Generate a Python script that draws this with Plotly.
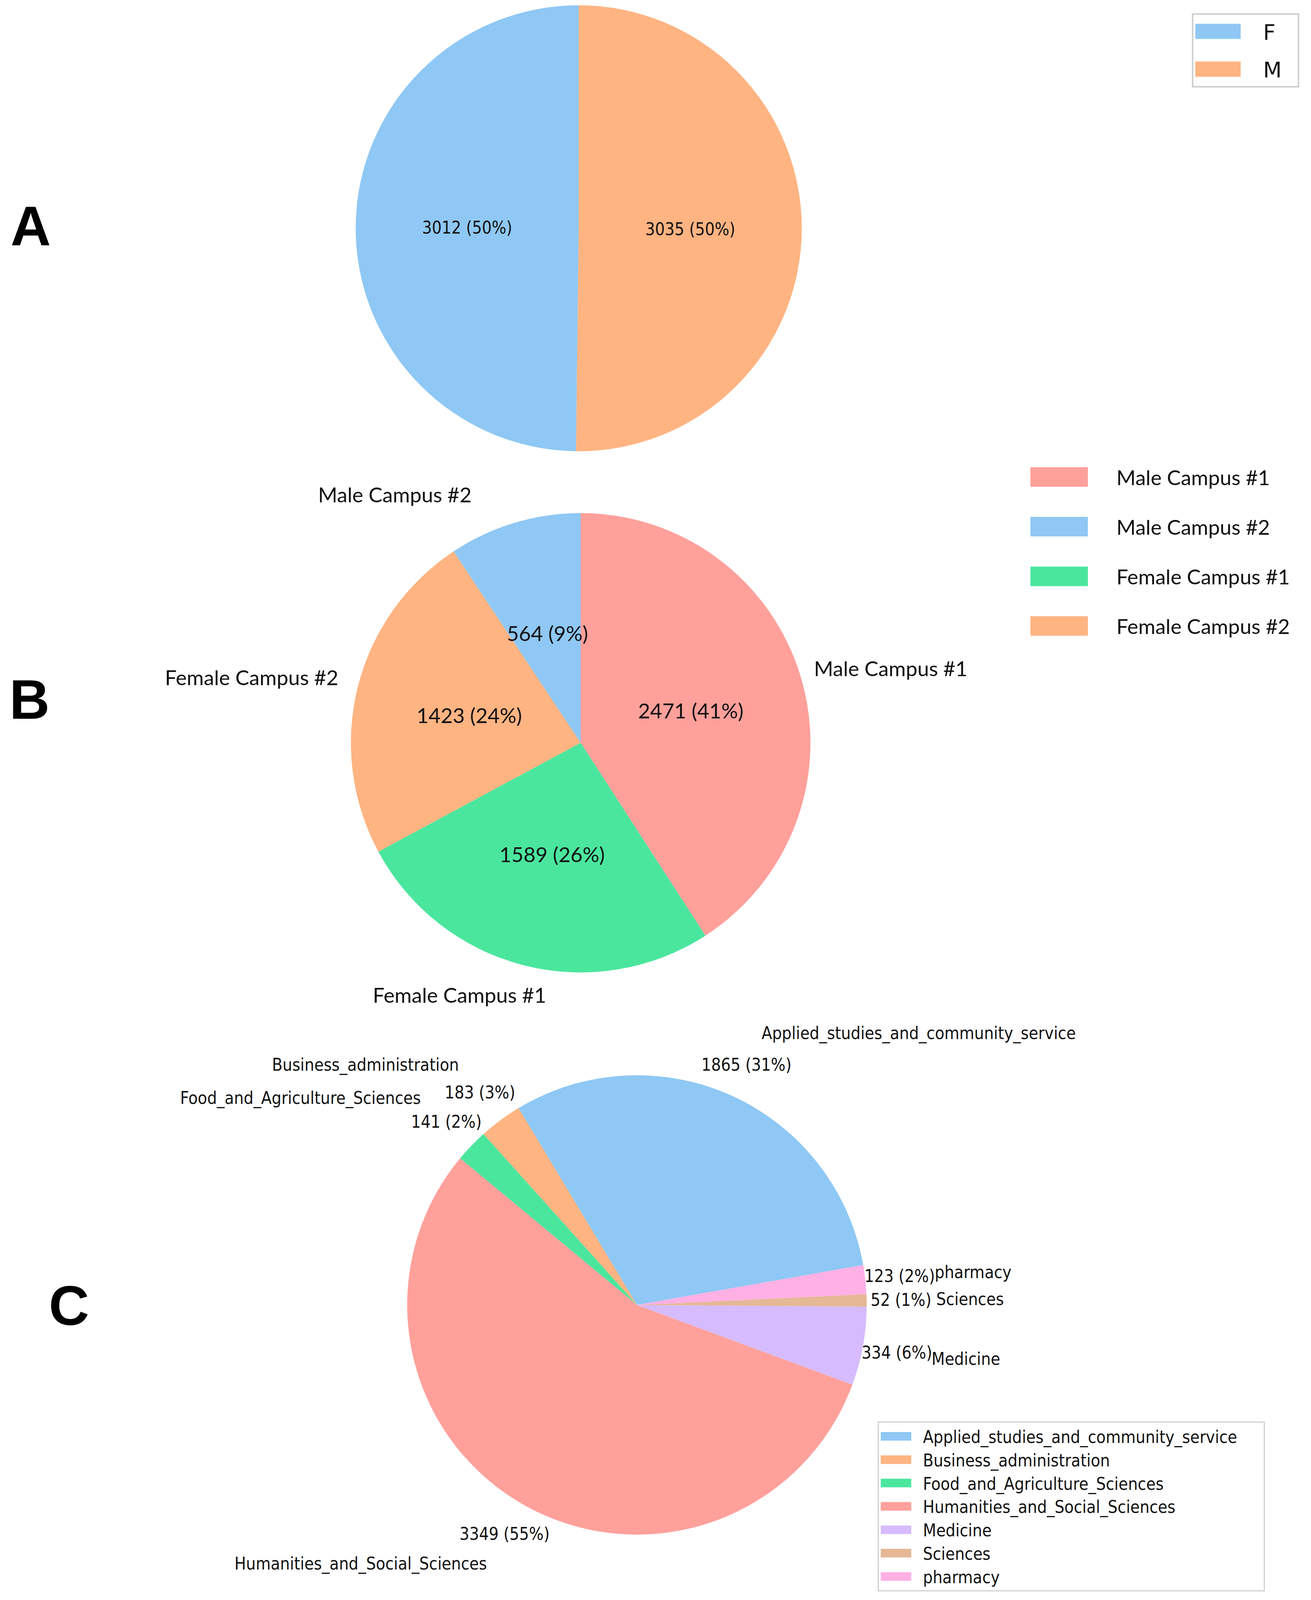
import math
import plotly.graph_objects as go

# ---------------- data ----------------
# Panel A : gender
gender_labels = ["F", "M"]
gender_counts = [3012, 3035]
gender_colors = ["#8fc8f4", "#ffb482"]

# Panel B : campus (pie order, clockwise from 12 o'clock)
campus_labels = ["Male Campus #1", "Female Campus #1", "Female Campus #2", "Male Campus #2"]
campus_counts = [2471, 1589, 1423, 564]
campus_colors = ["#ffa09b", "#4be69e", "#ffb482", "#8fc8f4"]
campus_legend_order = ["Male Campus #1", "Male Campus #2", "Female Campus #1", "Female Campus #2"]

# Panel C : college (counter-clockwise)
college_labels = ["Applied_studies_and_community_service", "Business_administration",
                  "Food_and_Agriculture_Sciences", "Humanities_and_Social_Sciences",
                  "Medicine", "Sciences", "pharmacy"]
college_counts = [1865, 183, 141, 3349, 334, 52, 123]
college_colors = ["#8fc8f4", "#ffb482", "#4be69e", "#ffa09b", "#d6bcfe", "#e5b896", "#ffb0e5"]

panel_letters = ["A", "B", "C"]

# ---------------- layout constants ----------------
W_REF, H_REF = 3355, 4528          # reference picture
W, H = 3355, 4096                  # visible page area
S = H / H_REF                      # vertical size factor
FS = 0.95                          # font size factor

GEOM = {                           # reference-pixel geometry of the pies
    "A": dict(cx=1481, cy=646, r=631),
    "B": dict(cx=1486, cy=2102, r=650),
    "C": dict(cx=1630, cy=3693, r=650),
}
START_B = 90      # clockwise start (math degrees)
START_C = 10      # counter-clockwise start (math degrees)
FONT_MPL = "DejaVu Sans Condensed, DejaVu Sans, sans-serif"
FONT_B = "Lato, Carlito, Calibri, sans-serif"
TXT = "#111111"
B_NUDGE = [(-28, -9), (83, 20), (10, -12), (-100, -19)]
LETTER_POS = [(78, 640), (75, 1979), (176, 3695)]
NB = "\u00a0"


def fx(x_ref):
    return x_ref / W


def fy(y_ref):
    return 1 - y_ref / H_REF


def domain(g):
    cx, cy, R = g["cx"], g["cy"] * S, g["r"] * S
    return dict(x=[(cx - R) / W, (cx + R) / W], y=[1 - (cy + R) / H, 1 - (cy - R) / H])


def mid_angles(values, start, ccw=True):
    tot = float(sum(values))
    a = start
    out = []
    for v in values:
        span = 360.0 * v / tot
        if ccw:
            out.append(a + span / 2)
            a += span
        else:
            out.append(a - span / 2)
            a -= span
    return out


def at(g, ang, dist, dx=0, dy=0):
    R = g["r"] * S
    x = g["cx"] + dist * R * math.cos(math.radians(ang)) + dx * S
    y = g["cy"] * S - dist * R * math.sin(math.radians(ang)) + dy * S
    return x / W, 1 - y / H


def pct_text(v, values):
    return f"{v} ({100.0 * v / sum(values):.0f}%)"


fig = go.Figure()

# ---------------- Pie A ----------------
fig.add_trace(go.Pie(
    labels=gender_labels, values=gender_counts, sort=False,
    direction="counterclockwise",
    rotation=-360.0 * gender_counts[0] / sum(gender_counts),
    marker=dict(colors=gender_colors, line=dict(width=0)),
    domain=domain(GEOM["A"]),
    texttemplate="%{value} (%{percent:.0%})", textposition="inside",
    insidetextorientation="horizontal",
    insidetextfont=dict(family=FONT_MPL, size=46 * FS, color=TXT),
    showlegend=False, hoverinfo="label+value+percent",
))

# ---------------- Pie B ----------------
fig.add_trace(go.Pie(
    labels=campus_labels, values=campus_counts, sort=False,
    direction="clockwise", rotation=90 - START_B,
    marker=dict(colors=campus_colors, line=dict(width=0)),
    domain=domain(GEOM["B"]), textinfo="none",
    showlegend=False, hoverinfo="label+value+percent",
))

# ---------------- Pie C ----------------
span0 = 360.0 * college_counts[0] / sum(college_counts)
fig.add_trace(go.Pie(
    labels=college_labels, values=college_counts, sort=False,
    direction="counterclockwise", rotation=90 - START_C - span0,
    marker=dict(colors=college_colors, line=dict(width=0)),
    domain=domain(GEOM["C"]), textinfo="none",
    showlegend=False, hoverinfo="label+value+percent",
))

# ---------------- legends (patch style entries) ----------------
for i, (lab, col) in enumerate(zip(gender_labels, gender_colors)):
    fig.add_trace(go.Scatter(x=[0], y=[0], mode="lines", name=NB * 3 + lab + NB * 2,
                             line=dict(color=col, width=10),
                             legend="legend", legendgroup=f"a{i}", hoverinfo="skip"))
cmap = dict(zip(campus_labels, campus_colors))
for i, lab in enumerate(campus_legend_order):
    fig.add_trace(go.Scatter(x=[0], y=[0], mode="lines", name=NB * 5 + lab,
                             line=dict(color=cmap[lab], width=10),
                             legend="legend2", legendgroup=f"b{i}", hoverinfo="skip"))
for lab, col in zip(college_labels, college_colors):
    fig.add_trace(go.Scatter(x=[0], y=[0], mode="lines", name=NB * 2 + lab + NB * 5,
                             line=dict(color=col, width=10),
                             legend="legend3", hoverinfo="skip"))

# ---------------- slice labels ----------------
ann = []
gB = GEOM["B"]
for lab, v, ang, (ndx, ndy) in zip(campus_labels, campus_counts,
                                  mid_angles(campus_counts, START_B, ccw=False), B_NUDGE):
    x, y = at(gB, ang, 0.5)
    ann.append(dict(x=x, y=y, text=pct_text(v, campus_counts), xanchor="center", yanchor="middle",
                    font=dict(family=FONT_B, size=56 * FS, color=TXT)))
    left = math.cos(math.radians(ang)) >= 0
    x, y = at(gB, ang, 1.1, ndx, ndy)
    ann.append(dict(x=x, y=y, text=lab, xanchor="left" if left else "right", yanchor="middle",
                    font=dict(family=FONT_B, size=56 * FS, color=TXT)))
gC = GEOM["C"]
for lab, v, ang in zip(college_labels, college_counts, mid_angles(college_counts, START_C, ccw=True)):
    x, y = at(gC, ang, 1.15)
    ann.append(dict(x=x, y=y, text=pct_text(v, college_counts), xanchor="center", yanchor="middle",
                    font=dict(family=FONT_MPL, size=46 * FS, color=TXT)))
    left = math.cos(math.radians(ang)) >= 0
    x, y = at(gC, ang, 1.3)
    ann.append(dict(x=x, y=y, text=lab, xanchor="left" if left else "right", yanchor="middle",
                    font=dict(family=FONT_MPL, size=46 * FS, color=TXT)))
for letter, (px, py) in zip(panel_letters, LETTER_POS):
    ann.append(dict(x=fx(px), y=fy(py), text=f"<b>{letter}</b>", xanchor="center", yanchor="middle",
                    font=dict(family="Liberation Sans, Arial, sans-serif", size=158 * S, color="#000000")))
for a in ann:
    a.update(xref="paper", yref="paper", showarrow=False)

fig.update_layout(
    width=W, height=H,
    margin=dict(l=0, r=0, t=0, b=0),
    paper_bgcolor="white", plot_bgcolor="white",
    xaxis=dict(visible=False), yaxis=dict(visible=False),
    annotations=ann,
    legend=dict(x=fx(3050), y=1 - 34 / H, xanchor="left", yanchor="top",
                bordercolor="#d0d0d0", borderwidth=4, bgcolor="white",
                font=dict(family="DejaVu Sans, sans-serif", size=58 * FS, color=TXT),
                itemwidth=116, tracegroupgap=22),
    legend2=dict(x=fx(2632), y=1 - 1180 / H, xanchor="left", yanchor="top",
                 borderwidth=0, bgcolor="rgba(0,0,0,0)",
                 font=dict(family=FONT_B, size=56 * FS, color=TXT),
                 itemwidth=147, tracegroupgap=55),
    legend3=dict(x=fx(2246), y=1 - 3639 / H, xanchor="left", yanchor="top",
                 bordercolor="#d0d0d0", borderwidth=3, bgcolor="white",
                 font=dict(family=FONT_MPL, size=46 * FS, color=TXT),
                 itemwidth=78),
)

# thicker legend patches (plotly caps legend line width at 10px)
post = (
    "document.body.style.margin='0';"
    "var st=document.createElement('style');"
    "st.innerHTML='.legend .legendlines path{stroke-width:%dpx !important;}"
    ".legend2 .legendlines path{stroke-width:%dpx !important;}"
    ".legend3 .legendlines path{stroke-width:%dpx !important;}';"
    "document.head.appendChild(st);"
) % (round(43 * S), round(55 * S), round(24 * S))

fig.write_html("out.html", config={"displayModeBar": False}, post_script=post)
